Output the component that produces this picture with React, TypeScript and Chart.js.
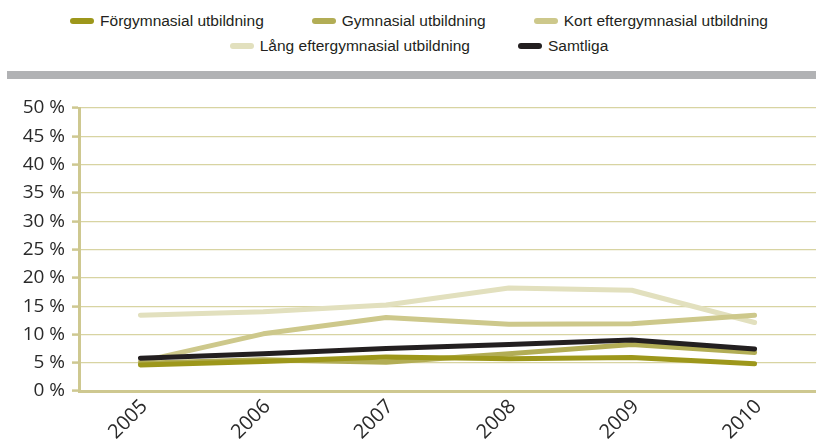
import React, { useEffect, useRef } from "react";
import { Chart, registerables } from "chart.js";

Chart.register(...registerables);

const years = ["2005", "2006", "2007", "2008", "2009", "2010"];
const yTicks = [0, 5, 10, 15, 20, 25, 30, 35, 40, 45, 50];

const forgymnasial = [4.6, 5.2, 6.0, 5.7, 5.9, 4.8];
const gymnasial = [4.9, 5.5, 5.1, 6.6, 8.2, 6.8];
const kortEfter = [5.2, 10.1, 13.0, 11.8, 11.9, 13.4];
const langEfter = [13.4, 14.0, 15.2, 18.2, 17.8, 12.1];
const samtliga = [5.8, 6.6, 7.5, 8.2, 9.0, 7.4];

const seriesNames = [
  "Förgymnasial utbildning",
  "Gymnasial utbildning",
  "Kort eftergymnasial utbildning",
  "Lång eftergymnasial utbildning",
  "Samtliga",
];
const seriesColors = ["#9d971b", "#b2ad55", "#cdc88b", "#e2e0be", "#231f20"];
const seriesData = [forgymnasial, gymnasial, kortEfter, langEfter, samtliga];
const drawOrder = [1, 2, 3, 4, 0];

const legendRows = [[0, 1, 2], [3, 4]];

export default function App() {
  const canvasRef = useRef<HTMLCanvasElement | null>(null);

  useEffect(() => {
    if (!canvasRef.current) return;
    const chart = new Chart(canvasRef.current, {
      type: "line",
      data: {
        labels: years,
        datasets: seriesNames.map((name, i) => ({
          label: name,
          data: seriesData[i],
          borderColor: seriesColors[i],
          backgroundColor: seriesColors[i],
          borderWidth: 5,
          borderCapStyle: "round" as const,
          borderJoinStyle: "round" as const,
          pointRadius: 0,
          tension: 0,
          order: drawOrder[i],
        })),
      },
      options: {
        animation: false,
        responsive: true,
        maintainAspectRatio: false,
        layout: { padding: { top: 23, right: 0, left: 0, bottom: 0 } },
        plugins: {
          legend: { display: false },
          tooltip: { enabled: false },
        },
        scales: {
          x: {
            offset: true,
            grid: { display: false, drawTicks: false },
            border: { display: true, color: "#cec890", width: 3 },
            ticks: {
              minRotation: 45,
              maxRotation: 45,
              padding: 4,
              labelOffset: 4,
              color: "#2a2a2a",
              font: { family: "'Open Sans'", size: 20 },
            },
            afterFit: (scale: any) => {
              scale.height = 51;
            },
          },
          y: {
            min: 0,
            max: 50,
            afterBuildTicks: (scale: any) => {
              scale.ticks = yTicks.map((v) => ({ value: v }));
            },
            grid: {
              color: "#d8d4a2",
              lineWidth: 1.2,
              tickColor: "#cec890",
              tickLength: 7,
              tickWidth: 2.5,
            },
            border: { display: true, color: "#cec890", width: 3 },
            ticks: {
              padding: 7,
              color: "#2a2a2a",
              font: { family: "'Open Sans'", size: 19 },
              callback: (v: any) => `${v} %`,
            },
            afterFit: (scale: any) => {
              scale.width = 79;
            },
          },
        },
      },
    });
    return () => chart.destroy();
  }, []);

  return (
    <div
      style={{
        position: "absolute",
        left: 0,
        top: 0,
        width: 816,
        height: 442,
        background: "#fff",
        overflow: "hidden",
      }}
    >
      <div
        style={{
          position: "absolute",
          top: 8,
          left: 22,
          width: 794,
          fontFamily: "'Liberation Sans', Arial, sans-serif",
          fontSize: 15.5,
          color: "#231f20",
        }}
      >
        {legendRows.map((row, r) => (
          <div
            key={r}
            style={{
              display: "flex",
              justifyContent: "center",
              alignItems: "center",
              height: 25,
            }}
          >
            {row.map((i, k) => (
              <div
                key={i}
                style={{
                  display: "flex",
                  alignItems: "center",
                  marginLeft: k === 0 ? 0 : 48,
                }}
              >
                <span
                  style={{
                    display: "inline-block",
                    width: 24,
                    height: 6,
                    borderRadius: 3,
                    background: seriesColors[i],
                    marginRight: 6,
                  }}
                />
                <span style={{ whiteSpace: "nowrap" }}>{seriesNames[i]}</span>
              </div>
            ))}
          </div>
        ))}
      </div>
      <div
        style={{
          position: "absolute",
          top: 71,
          left: 7,
          width: 809,
          height: 8,
          background: "#b1b2b4",
        }}
      />
      <div
        style={{
          position: "absolute",
          top: 85,
          left: 0,
          width: 816,
          height: 357,
        }}
      >
        <canvas ref={canvasRef} />
      </div>
    </div>
  );
}
